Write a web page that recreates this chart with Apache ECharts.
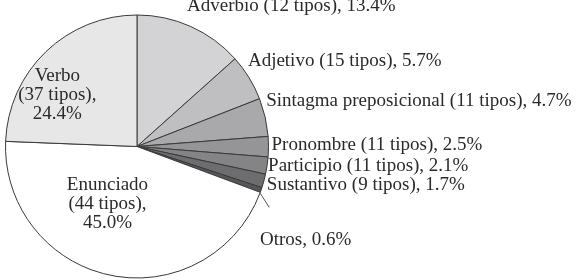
<!DOCTYPE html>
<html>
<head>
<meta charset="utf-8">
<script src="https://cdn.jsdelivr.net/npm/echarts@6/dist/echarts.min.js"></script>
<style>
html,body{margin:0;padding:0;background:#fff;}
#chart{width:584px;height:280px;}
</style>
</head>
<body>
<div id="chart"></div>
<script>
// Data
const categories = ['Adverbio', 'Adjetivo', 'Sintagma preposicional', 'Pronombre', 'Participio', 'Sustantivo', 'Otros', 'Enunciado', 'Verbo'];
const tipos = [12, 15, 11, 11, 11, 9, null, 44, 37];
const percents = [13.4, 5.7, 4.7, 2.5, 2.1, 1.7, 0.6, 45.0, 24.4];
const insideLabels = ['Enunciado', 'Verbo'];

// Styles
const FONT = 'Times New Roman';
const FONT_CSS = '"Times New Roman", "Liberation Serif", serif';
const sliceColors = ['#d3d3d5', '#bfbfc1', '#a9a9ab', '#959597', '#848486', '#6d6d6f', '#565658', '#ffffff', '#e7e7e7'];
const labelOffsets = [[-5, -10], [-4, -8], [-3, -8], [-2, -1], [-3, 0], [-2, 2], [-4, 25], [-8, -5], [-16, -1]];

function labelText(i) {
  const name = categories[i];
  const pct = percents[i].toFixed(1) + '%';
  if (insideLabels.indexOf(name) >= 0) return name + '\n(' + tipos[i] + ' tipos),\n' + pct;
  if (tipos[i] == null) return name + ', ' + pct;
  return name + ' (' + tipos[i] + ' tipos), ' + pct;
}

const data = categories.map((name, i) => {
  const inside = insideLabels.indexOf(name) >= 0;
  return {
    name: name,
    value: percents[i],
    itemStyle: { color: sliceColors[i], borderColor: '#3a3a3a', borderWidth: 1 },
    label: {
      show: true,
      position: inside ? 'inside' : 'outside',
      fontFamily: FONT,
      fontSize: 19,
      color: '#2a2a2a',
      formatter: labelText(i)
    },
    labelLine: { show: false }
  };
});

const chart = echarts.init(document.getElementById('chart'), null, { renderer: 'canvas' });
chart.setOption({
  animation: false,
  backgroundColor: '#ffffff',
  textStyle: { fontFamily: FONT },
  series: [{
    type: 'pie',
    center: [137, 146.5],
    radius: 131.5,
    startAngle: 90,
    clockwise: true,
    avoidLabelOverlap: false,
    data: data,
    label: { fontFamily: FONT, fontSize: 19, color: '#2a2a2a' },
    labelLine: { show: false, length: 1, length2: 1 },
    labelLayout: function (p) {
      const o = labelOffsets[p.dataIndex];
      return { dx: o[0], dy: o[1] };
    }
  }]
});

// Leader line for "Otros", derived from the library's own sector layout
try {
  const sData = chart.getModel().getSeriesByIndex(0).getData();
  const idx = categories.indexOf('Otros');
  const lay = sData.getItemLayout(idx);
  const a = lay.endAngle;
  const sx = lay.cx + lay.r * Math.cos(a);
  const sy = lay.cy + lay.r * Math.sin(a);
  chart.setOption({
    graphic: [{
      type: 'line', silent: true,
      shape: { x1: sx, y1: sy + 1, x2: sx + 9, y2: sy + 15 },
      style: { stroke: '#555555', lineWidth: 1 }
    }]
  });
} catch (e) {}

// Make sure every label is drawn with the serif face
try {
  const zr = chart.getZr();
  zr.storage.getDisplayList(true).forEach(function (el) {
    if (el.style && el.style.text != null && typeof el.style.font === 'string') {
      el.style.font = el.style.font.replace(/(\d+(\.\d+)?px)\s+.*$/, '$1 ' + FONT_CSS);
      el.markRedraw();
    }
  });
  zr.refreshImmediately();
} catch (e) {}
</script>
</body>
</html>
